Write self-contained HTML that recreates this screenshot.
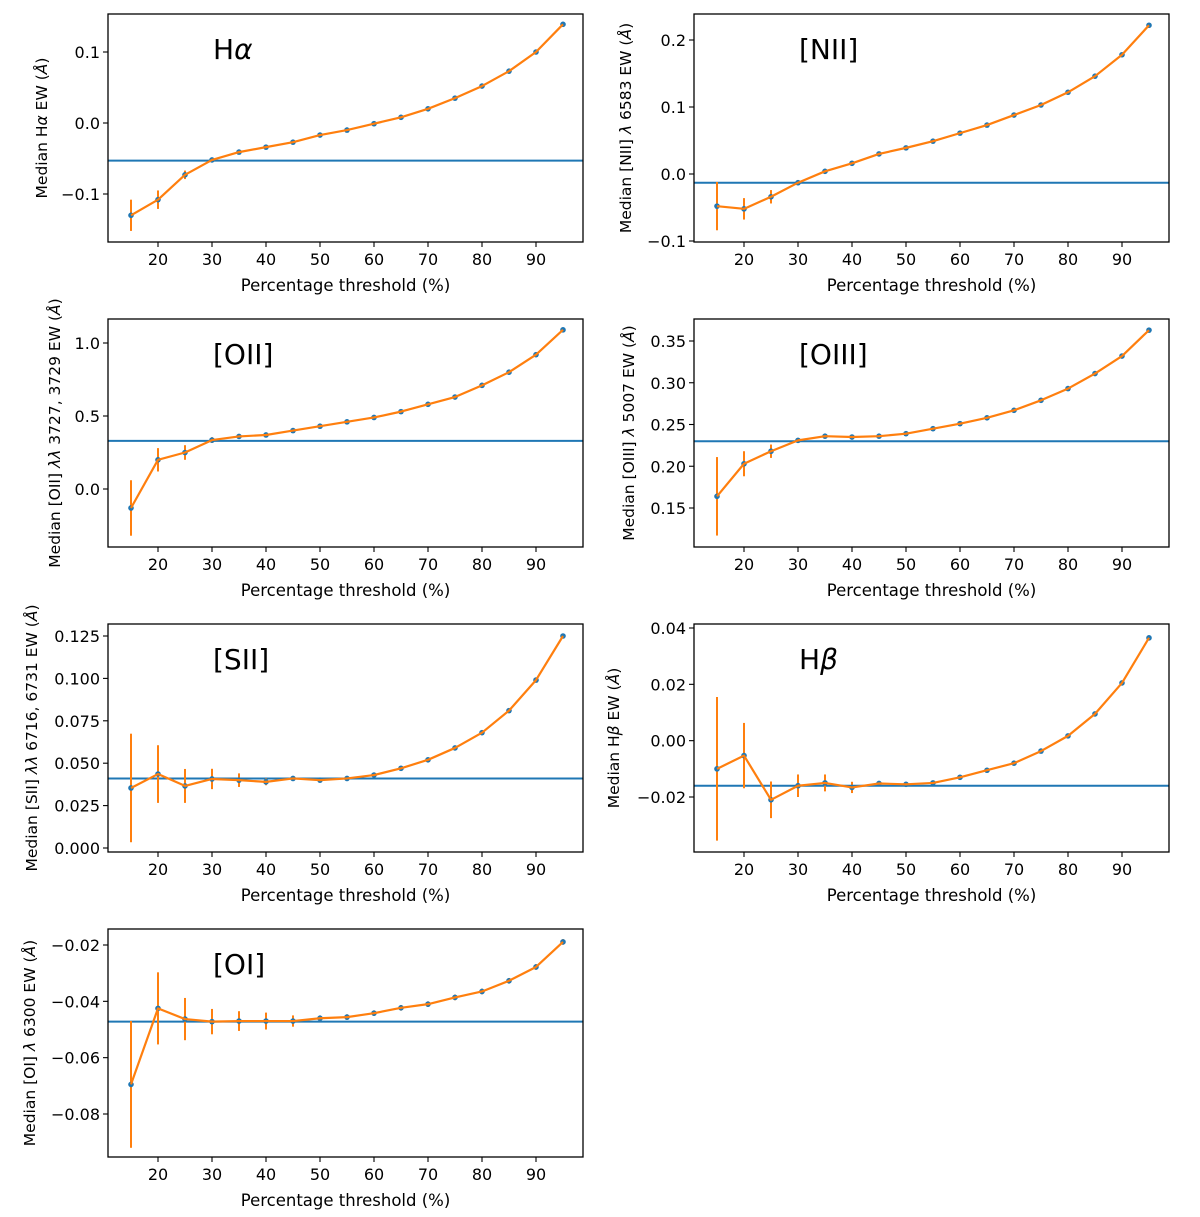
<!DOCTYPE html>
<html><head><meta charset="utf-8"><style>
html,body{margin:0;padding:0;background:#fff}
svg{display:block;font-family:"DejaVu Sans","Liberation Sans",sans-serif}
</style></head><body>
<svg id="fig" width="1200" height="1217" viewBox="0 0 1200 1217" xmlns="http://www.w3.org/2000/svg"></svg>
<script>
const thresholds = [15,20,25,30,35,40,45,50,55,60,65,70,75,80,85,90,95];
const xTicks = [20,30,40,50,60,70,80,90];

const haVals = [-0.130,-0.108,-0.073,-0.052,-0.041,-0.034,-0.027,-0.017,-0.010,-0.001,0.008,0.020,0.035,0.052,0.073,0.100,0.139];
const haErr  = [0.022,0.013,0.006,0.002,0.002,0.002,0.002,0.002,0.002,0.002,0.002,0.002,0.002,0.002,0.002,0.002,0.002];
const haRef = -0.053;
const haTicks = [0.1,0.0,-0.1];
const haTickLabels = ["0.1","0.0","\u22120.1"];

const niiVals = [-0.048,-0.052,-0.034,-0.013,0.004,0.016,0.030,0.039,0.049,0.061,0.073,0.088,0.103,0.122,0.146,0.178,0.222];
const niiErr  = [0.036,0.016,0.010,0.003,0.002,0.002,0.002,0.002,0.002,0.002,0.002,0.002,0.002,0.002,0.002,0.002,0.002];
const niiRef = -0.013;
const niiTicks = [0.2,0.1,0.0,-0.1];
const niiTickLabels = ["0.2","0.1","0.0","\u22120.1"];

const oiiVals = [-0.13,0.20,0.25,0.335,0.36,0.37,0.40,0.43,0.46,0.49,0.53,0.58,0.63,0.71,0.80,0.92,1.09];
const oiiErr  = [0.19,0.08,0.05,0.02,0.01,0.01,0.01,0.01,0.01,0.01,0.01,0.01,0.01,0.01,0.01,0.01,0.01];
const oiiRef = 0.33;
const oiiTicks = [1.0,0.5,0.0];
const oiiTickLabels = ["1.0","0.5","0.0"];

const oiiiVals = [0.164,0.203,0.218,0.231,0.236,0.235,0.236,0.239,0.245,0.251,0.258,0.267,0.279,0.293,0.311,0.332,0.363];
const oiiiErr  = [0.047,0.015,0.008,0.003,0.002,0.002,0.002,0.002,0.002,0.002,0.002,0.002,0.002,0.002,0.002,0.002,0.002];
const oiiiRef = 0.230;
const oiiiTicks = [0.35,0.30,0.25,0.20,0.15];
const oiiiTickLabels = ["0.35","0.30","0.25","0.20","0.15"];

const siiVals = [0.0354,0.0436,0.0366,0.0407,0.0400,0.0390,0.0410,0.0400,0.0410,0.0430,0.0470,0.0520,0.0590,0.0680,0.0810,0.0990,0.1250];
const siiErr  = [0.032,0.017,0.010,0.006,0.004,0.002,0.001,0.001,0.001,0.001,0.001,0.001,0.001,0.001,0.001,0.001,0.001];
const siiRef = 0.041;
const siiTicks = [0.125,0.100,0.075,0.050,0.025,0.000];
const siiTickLabels = ["0.125","0.100","0.075","0.050","0.025","0.000"];

const hbVals = [-0.0100,-0.0053,-0.0210,-0.0160,-0.0150,-0.0166,-0.0152,-0.0155,-0.0150,-0.0130,-0.0105,-0.0080,-0.0037,0.0017,0.0095,0.0205,0.0365];
const hbErr  = [0.0255,0.0116,0.0065,0.0040,0.0030,0.0020,0.0005,0.0005,0.0005,0.0005,0.0005,0.0005,0.0005,0.0005,0.0005,0.0005,0.0005];
const hbRef = -0.016;
const hbTicks = [0.04,0.02,0.00,-0.02];
const hbTickLabels = ["0.04","0.02","0.00","\u22120.02"];

const oiVals = [-0.0695,-0.0425,-0.0463,-0.0472,-0.0470,-0.0470,-0.0470,-0.0460,-0.0456,-0.0442,-0.0423,-0.0410,-0.0386,-0.0365,-0.0327,-0.0278,-0.0189];
const oiErr  = [0.0225,0.0128,0.0075,0.0045,0.0035,0.0030,0.0020,0.0010,0.0010,0.0010,0.0010,0.0010,0.0010,0.0010,0.0010,0.0010,0.0010];
const oiRef = -0.0472;
const oiTicks = [-0.02,-0.04,-0.06,-0.08];
const oiTickLabels = ["\u22120.02","\u22120.04","\u22120.06","\u22120.08"];

const NS = "http://www.w3.org/2000/svg";
const svg = document.getElementById("fig");
function mk(tag, attrs, parent){const e=document.createElementNS(NS,tag);for(const k in attrs)e.setAttribute(k,attrs[k]);(parent||svg).appendChild(e);return e;}

const panels = [
 {key:"halpha", vals:haVals, err:haErr, ref:haRef, ticks:haTicks, labels:haTickLabels, col:0,row:0, t0:52, t1:194, title:["H","\u03b1"], ylabel:["Median H","\u03b1"," EW (","\u00c5",")"], ylx:42},
 {key:"nii", vals:niiVals, err:niiErr, ref:niiRef, ticks:niiTicks, labels:niiTickLabels, col:1,row:0, t0:40, t1:241, title:["[NII]"], ylabel:["Median [NII] ","\u03bb"," 6583 EW (","\u00c5",")"], ylx:626},
 {key:"oii", vals:oiiVals, err:oiiErr, ref:oiiRef, ticks:oiiTicks, labels:oiiTickLabels, col:0,row:1, t0:343, t1:489, title:["[OII]"], ylabel:["Median [OII] ","\u03bb\u03bb"," 3727, 3729 EW (","\u00c5",")"], ylx:55},
 {key:"oiii", vals:oiiiVals, err:oiiiErr, ref:oiiiRef, ticks:oiiiTicks, labels:oiiiTickLabels, col:1,row:1, t0:341, t1:508, title:["[OIII]"], ylabel:["Median [OIII] ","\u03bb"," 5007 EW (","\u00c5",")"], ylx:629},
 {key:"sii", vals:siiVals, err:siiErr, ref:siiRef, ticks:siiTicks, labels:siiTickLabels, col:0,row:2, t0:636, t1:848, title:["[SII]"], ylabel:["Median [SII] ","\u03bb\u03bb"," 6716, 6731 EW (","\u00c5",")"], ylx:32},
 {key:"hbeta", vals:hbVals, err:hbErr, ref:hbRef, ticks:hbTicks, labels:hbTickLabels, col:1,row:2, t0:628, t1:797, title:["H","\u03b2"], ylabel:["Median H","\u03b2"," EW (","\u00c5",")"], ylx:614},
 {key:"oi", vals:oiVals, err:oiErr, ref:oiRef, ticks:oiTicks, labels:oiTickLabels, col:0,row:3, t0:945, t1:1114, title:["[OI]"], ylabel:["Median [OI] ","\u03bb"," 6300 EW (","\u00c5",")"], ylx:30}
];

panels.forEach(p=>{
  const L = p.col===0 ? 108 : 694, R = L+475;
  const T = [14,319,624,929][p.row], B = T+228;
  const xs = v => L + 50 + (v-20)*5.4;
  const tv0 = p.ticks[0], tv1 = p.ticks[p.ticks.length-1];
  const ys = v => p.t0 + (v - tv0)*(p.t1 - p.t0)/(tv1 - tv0);
  const g = mk("g",{});
  
  
  const cp = mk("clipPath",{id:"c"+p.key},g); mk("rect",{x:L,y:T,width:R-L,height:B-T},cp);
  const hl = mk("line",{x1:L,x2:R,y1:ys(p.ref),y2:ys(p.ref),stroke:"#1f77b4","stroke-width":2,"clip-path":"url(#c"+p.key+")"},g);
  
  
  thresholds.forEach((t,i)=>{
    const eb = mk("line",{x1:xs(t),x2:xs(t),y1:ys(p.vals[i]-p.err[i]),y2:ys(p.vals[i]+p.err[i]),stroke:"#ff7f0e","stroke-width":2},g);
    
    
  });
  thresholds.forEach((t,i)=>{
    const c = mk("circle",{cx:xs(t),cy:ys(p.vals[i]),r:2.8,fill:"#1f77b4"},g);
    
    
  });
  const pl = mk("polyline",{points:thresholds.map((t,i)=>xs(t)+","+ys(p.vals[i])).join(" "),fill:"none",stroke:"#ff7f0e","stroke-width":2.2,"stroke-linejoin":"round"},g);
  
  
  const fr = mk("rect",{x:L,y:T,width:R-L,height:B-T,fill:"none",stroke:"#000","stroke-width":1.3},g);
  
  
  xTicks.forEach(t=>{
    mk("line",{x1:xs(t),x2:xs(t),y1:B,y2:B+5,stroke:"#000","stroke-width":1.1},g);
    const tx = mk("text",{x:xs(t),y:B+23,"font-size":16,"text-anchor":"middle",fill:"#000"},g);
    tx.textContent = t;
    
    
  });
  p.ticks.forEach((v,i)=>{
    mk("line",{x1:L-5,x2:L,y1:ys(v),y2:ys(v),stroke:"#000","stroke-width":1.1},g);
    const ty = mk("text",{x:L-8,y:ys(v)+6,"font-size":16,"text-anchor":"end",fill:"#000"},g);
    ty.textContent = p.labels[i];
    
    
  });
  const xl = mk("text",{x:(L+R)/2,y:B+49,"font-size":16.5,"text-anchor":"middle",fill:"#000"},g);
  xl.textContent = "Percentage threshold (%)";
  
  
  const yc = (T+B)/2;
  const yl = mk("text",{x:0,y:0,"font-size":15.5,"text-anchor":"middle",fill:"#000",transform:"translate("+(p.ylx+5)+","+yc+") rotate(-90)"},g);
  
  
  p.ylabel.forEach((s,i)=>{const ts=mk("tspan",{},yl); if(i===1||i===3) ts.setAttribute("font-style","italic"); ts.textContent=s;});
  const tt = mk("text",{x:L+105,y:T+45,"font-size":28,fill:"#000"},g);
  
  
  p.title.forEach((s,i)=>{const ts=mk("tspan",{},tt); if(i===1) ts.setAttribute("font-style","italic"); ts.textContent=s;});
});
</script>
</body></html>
